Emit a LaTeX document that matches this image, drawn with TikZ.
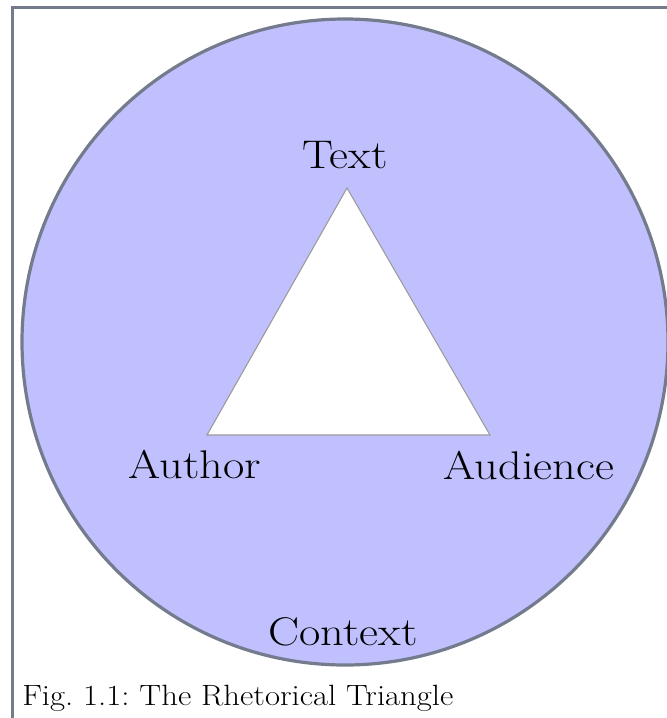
\documentclass[tikz,border=0pt]{standalone}
\definecolor{lav}{HTML}{C0C0FF}
\definecolor{rim}{HTML}{737B8C}
\definecolor{tri}{HTML}{9A9A9A}
\tikzset{
  lbl/.style={anchor=base, inner sep=0pt, xscale=1.16, transform shape, font=\fontsize{30}{34}\selectfont},
  captext/.style={anchor=base west, inner sep=0pt, xscale=1.115, transform shape, font=\fontsize{22}{26}\selectfont},
}
\begin{document}
\frenchspacing
\begin{tikzpicture}[x=0.75pt,y=-0.75pt]
\useasboundingbox (0,0) rectangle (667,718);
\begin{scope}
\clip (0,0) rectangle (667,718);
\draw[rim, line width=2.2pt] (12.5,718) -- (12.5,7.5) -- (667,7.5);
\draw[rim, fill=lav, line width=2.4pt] (345,342) circle[radius=323];
\end{scope}
\coordinate (t) at (347,188);
\coordinate (l) at (207,435);
\coordinate (r) at (490,435);
\draw[tri, fill=white, line width=0.8pt] (t) -- (l) -- (r) -- cycle;
\node[lbl] (text) at (345,168) {Text};
\node[lbl] (author) at (195,478) {Author};
\node[lbl] (aud) at (529,479) {Audience};
\node[lbl] (ctx) at (343,645) {Context};
\node[captext] (fig) at (22,705) {Fig.\ 1.1: The Rhetorical Triangle};
\end{tikzpicture}
\end{document}
